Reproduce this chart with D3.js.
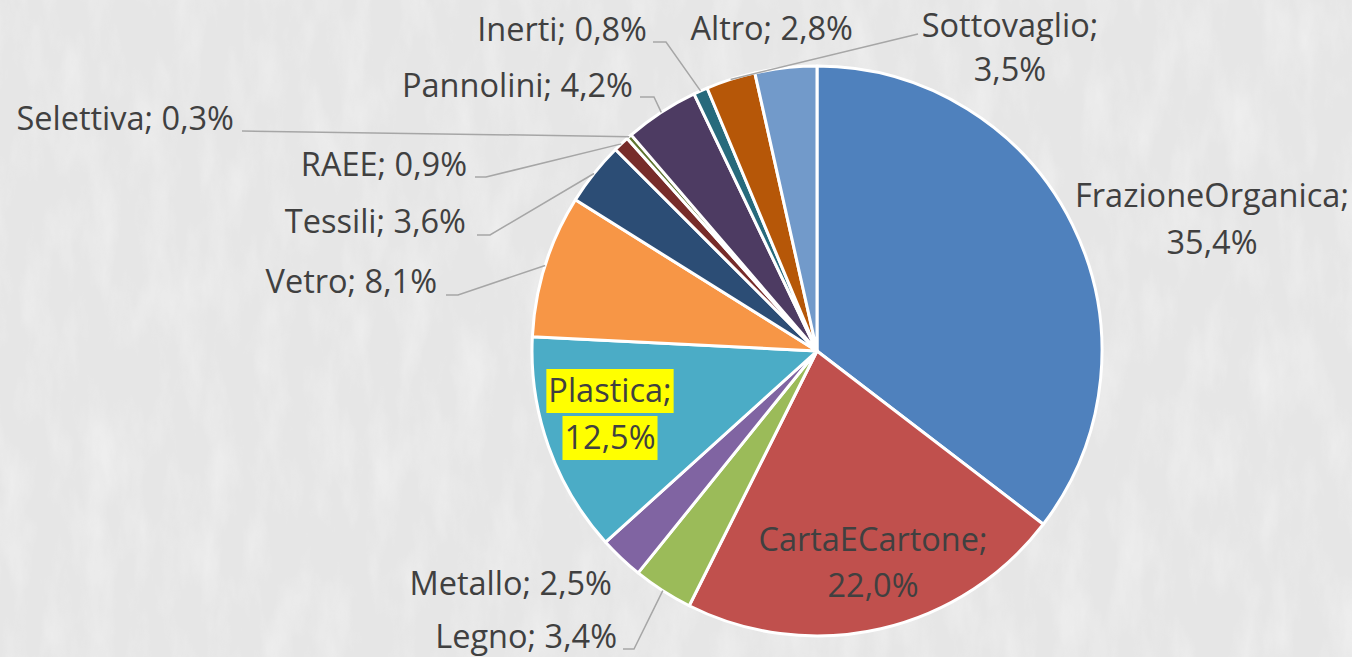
<!DOCTYPE html>
<html>
<head>
<meta charset="utf-8">
<script src="https://cdn.jsdelivr.net/npm/d3@7"></script>
<style>
  html, body { margin: 0; padding: 0; background: #e9e9e9; overflow: hidden; }
  svg { display: block; }
  text { font-family: "Open Sans", "Noto Sans", sans-serif; fill: #404040; }
</style>
</head>
<body>
<svg id="chart"></svg>
<script>
// data (percent of total)
var categories = ["FrazioneOrganica", "CartaECartone", "Legno", "Metallo", "Plastica", "Vetro",
                  "Tessili", "RAEE", "Selettiva", "Pannolini", "Inerti", "Altro", "Sottovaglio"];
var values = [35.4, 22.0, 3.4, 2.5, 12.5, 8.1, 3.6, 0.9, 0.3, 4.2, 0.8, 2.8, 3.5];
var colors = ["#4f81bd", "#c0504d", "#9bbb59", "#8064a2", "#4bacc6", "#f79646",
              "#2c4d75", "#772c2a", "#5f7530", "#4d3b62", "#276a7c", "#b65708", "#729aca"];

// set up vars
var width = 1352,
    height = 657,
    cx = 817,
    cy = 351,
    r = 285,
    fontSize = 32.5;

var svg = d3.select("#chart").attr("width", width).attr("height", height);

// faint texture for the grey photo background
var defs = svg.append("defs");
var f = defs.append("filter").attr("id", "grain").attr("x", 0).attr("y", 0).attr("width", "100%").attr("height", "100%");
f.append("feTurbulence").attr("type", "fractalNoise").attr("baseFrequency", "0.035 0.012").attr("numOctaves", 5).attr("seed", 3);
f.append("feColorMatrix").attr("type", "matrix")
  .attr("values", "0 0 0 0 1  0 0 0 0 1  0 0 0 0 1  0 0 0 -1.8 1.05");

svg.append("rect").attr("width", width).attr("height", height).attr("fill", "#e6e6e6");
svg.append("rect").attr("width", width).attr("height", height).attr("filter", "url(#grain)").attr("opacity", 0.35);

var pie = d3.pie().sort(null).value(function(d) { return d; });
var arcs = pie(values);
var arc = d3.arc().innerRadius(0).outerRadius(r);

var g = svg.append("g").attr("transform", "translate(" + cx + "," + cy + ")");

g.selectAll("path.slice")
  .data(arcs)
  .enter().append("path")
    .attr("class", "slice")
    .attr("d", arc)
    .attr("fill", function(d, i) { return colors[i]; })
    .attr("stroke", "#fff")
    .attr("stroke-width", 3)
    .attr("stroke-linejoin", "round");

// point on the rim at the middle of slice i
function rimPoint(i) {
  var a = (arcs[i].startAngle + arcs[i].endAngle) / 2;
  return [cx + r * Math.sin(a), cy - r * Math.cos(a)];
}

function fmt(v) { return d3.format(".1f")(v).replace(".", ",") + "%"; }

// label placement, as Excel left it (x, baselines, anchor, leader elbow)
var labelLayout = {
  FrazioneOrganica: { x: 1212, y: [207, 254], anchor: "middle", split: true },
  CartaECartone:    { x: 873,  y: [551, 597], anchor: "middle", split: true },
  Legno:            { x: 617,  y: [648], anchor: "end", leader: [[623, 649], [634, 649]] },
  Metallo:          { x: 612,  y: [595], anchor: "end" },
  Plastica:         { x: 610,  y: [402, 449], anchor: "middle", split: true, highlight: true },
  Vetro:            { x: 437,  y: [293], anchor: "end", leader: [[446, 295], [458, 295]] },
  Tessili:          { x: 466,  y: [233], anchor: "end", leader: [[477, 235], [490, 235]] },
  RAEE:             { x: 467,  y: [176], anchor: "end", leader: [[475, 177], [486, 177]] },
  Selettiva:        { x: 234,  y: [130], anchor: "end", leader: [[242, 131]] },
  Pannolini:        { x: 633,  y: [97],  anchor: "end", leader: [[640, 97], [654, 97]] },
  Inerti:           { x: 647,  y: [41],  anchor: "end", leader: [[653, 42], [666, 42]] },
  Altro:            { x: 853,  y: [40],  anchor: "end" },
  Sottovaglio:      { x: 1010, y: [37, 81], anchor: "middle", split: true, leader: [[918, 34]], target: "Altro" }
};

var lineGen = d3.line();
var leaders = svg.append("g");
var labels = svg.append("g");

categories.forEach(function(name, i) {
  var L = labelLayout[name];
  var lines = L.split ? [name + ";", fmt(values[i])] : [name + "; " + fmt(values[i])];

  if (L.leader) {
    var ti = L.target ? categories.indexOf(L.target) : i;
    var pts = L.leader.concat([rimPoint(ti)]);
    leaders.append("path")
      .attr("d", lineGen(pts))
      .attr("fill", "none")
      .attr("stroke", "#a6a6a6")
      .attr("stroke-width", 1.5);
  }

  lines.forEach(function(t, k) {
    var txt = labels.append("text")
      .attr("x", L.x)
      .attr("y", L.y[k])
      .attr("text-anchor", L.anchor)
      .style("font-size", fontSize + "px")
      .text(t);
    if (L.highlight) {
      var b = txt.node().getBBox();
      labels.insert("rect", function() { return txt.node(); })
        .attr("x", b.x - 2).attr("y", b.y + 2)
        .attr("width", b.width + 4).attr("height", b.height - 1)
        .attr("fill", "#ffff00");
    }
  });
});
</script>
</body>
</html>
